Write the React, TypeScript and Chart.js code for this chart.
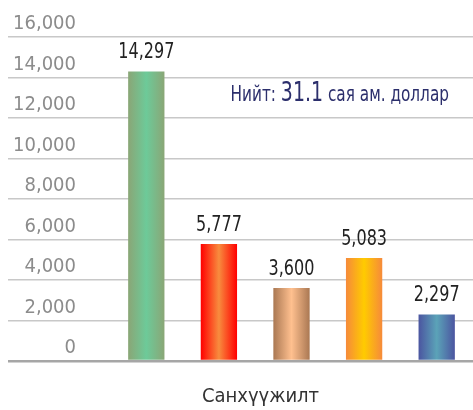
import React, { useEffect, useRef } from 'react';
import { Chart, registerables } from 'chart.js';

Chart.register(...registerables);

// ---- data ----
const categories = ['Санхүүжилт'];
const seriesNames = ['Цуврал 1', 'Цуврал 2', 'Цуврал 3', 'Цуврал 4', 'Цуврал 5'];
const seriesValues = [14297, 5777, 3600, 5083, 2297];
const yTicks = [0, 2000, 4000, 6000, 8000, 10000, 12000, 14000, 16000];
const totalParts = ['Нийт: ', '31.1', ' сая ам. доллар'];
// [edge colour, centre colour] for each bar's horizontal gradient
const barColors: [string, string][] = [
  ['#8aa676', '#6dca99'],
  ['#ff0000', '#f88c3e'],
  ['#aa7853', '#ffc08f'],
  ['#f68a3b', '#ffcb00'],
  ['#4b55a0', '#5ba3b8'],
];

const FONT = "'Liberation Sans Narrow', 'DejaVu Sans Condensed', Roboto, sans-serif";
const CONDENSE = 0.81;

const fmt = (v: number) => v.toLocaleString('en-US');

const gradientPlugin = {
  id: 'barGradients',
  afterDatasetsUpdate(chart: any) {
    const ctx = chart.ctx;
    chart.data.datasets.forEach((_ds: any, i: number) => {
      const meta = chart.getDatasetMeta(i);
      meta.data.forEach((el: any) => {
        const { x, width } = el.getProps(['x', 'width'], true);
        const g = ctx.createLinearGradient(x - width / 2, 0, x + width / 2, 0);
        const [edge, mid] = barColors[i % barColors.length];
        g.addColorStop(0, edge);
        g.addColorStop(0.5, mid);
        g.addColorStop(1, edge);
        el.options = { ...el.options, backgroundColor: g };
      });
    });
  },
};

const labelPlugin = {
  id: 'valueLabels',
  afterDatasetsDraw(chart: any) {
    const ctx = chart.ctx;
    chart.data.datasets.forEach((ds: any, i: number) => {
      const meta = chart.getDatasetMeta(i);
      meta.data.forEach((el: any, j: number) => {
        const { x, y } = el.getProps(['x', 'y'], true);
        ctx.save();
        ctx.font = `22px ${FONT}`;
        ctx.fillStyle = '#222222';
        ctx.textAlign = 'center';
        ctx.textBaseline = 'alphabetic';
        ctx.translate(x, y - 13);
        ctx.scale(CONDENSE, 1);
        ctx.fillText(fmt(ds.data[j]), 0, 0);
        ctx.restore();
      });
    });
  },
};

const totalPlugin = {
  id: 'totalNote',
  afterDraw(chart: any) {
    const ctx = chart.ctx;
    const sizes = [21, 26, 21];
    ctx.save();
    ctx.fillStyle = '#2c2f6c';
    ctx.textBaseline = 'alphabetic';
    ctx.textAlign = 'left';
    const widths = totalParts.map((t, k) => {
      ctx.font = `${sizes[k]}px ${FONT}`;
      return ctx.measureText(t).width;
    });
    const total = widths.reduce((a, b) => a + b, 0) * CONDENSE;
    ctx.translate(chart.chartArea.right - 24 - total, 101);
    ctx.scale(CONDENSE, 1);
    let x = 0;
    totalParts.forEach((t, k) => {
      ctx.font = `${sizes[k]}px ${FONT}`;
      ctx.fillText(t, x, 0);
      x += widths[k];
    });
    ctx.restore();
  },
};

export default function App() {
  const ref = useRef<HTMLCanvasElement>(null);
  useEffect(() => {
    document.body.style.margin = '0';
    const chart = new Chart(ref.current!, {
      type: 'bar',
      data: {
        labels: categories,
        datasets: seriesValues.map((v, i) => ({
          label: seriesNames[i],
          data: [v],
          backgroundColor: barColors[i][0],
          borderWidth: 0,
          categoryPercentage: 1,
          barPercentage: 0.5,
        })),
      },
      options: {
        responsive: false,
        animation: false,
        devicePixelRatio: 1,
        layout: { padding: { left: 8, right: -2, top: 37, bottom: 0 } },
        plugins: {
          legend: { display: false },
          tooltip: { enabled: false },
        },
        scales: {
          x: {
            grid: { display: false, drawTicks: false },
            border: { display: false },
            ticks: {
              font: { family: FONT, size: 20 },
              color: '#333333',
              padding: 24,
              labelOffset: -31,
              maxRotation: 0,
            },
            afterFit: (s: any) => { s.height = 49; },
          },
          y: {
            min: 0,
            max: 16000,
            afterBuildTicks: (s: any) => { s.ticks = yTicks.map((v) => ({ value: v })); },
            border: { display: false },
            grid: {
              color: (c: any) => (c.tick && c.tick.value === 0 ? '#a6a6a6' : '#c8c8c8'),
              lineWidth: (c: any) => (c.tick && c.tick.value === 0 ? 2.5 : 1.5),
              tickLength: 102,
            },
            ticks: {
              font: { family: FONT, size: 20 },
              color: '#8c8c8c',
              padding: -68,
              labelOffset: -13,
              callback: (v: any) => fmt(Number(v)),
            },
            afterFit: (s: any) => { s.width = 102; },
          },
        },
      },
      plugins: [gradientPlugin, labelPlugin, totalPlugin],
    });
    return () => chart.destroy();
  }, []);
  return (
    <div style={{ width: 473, height: 410 }}>
      <canvas ref={ref} width={473} height={410} style={{ display: 'block' }} />
    </div>
  );
}
